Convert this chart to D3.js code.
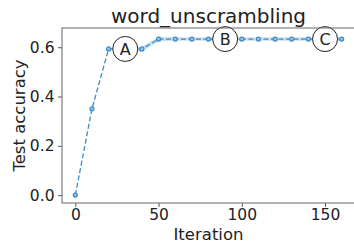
<!DOCTYPE html>
<html>
<head>
<meta charset="utf-8">
<script src="https://cdn.jsdelivr.net/npm/d3@7"></script>
<style>
  body { margin: 0; background: #fff; }
  text { font-family: "DejaVu Sans", sans-serif; fill: #222; }
</style>
</head>
<body>
<div id="chart"></div>
<script>
var width = 354,
    height = 244;

var iterations = [0, 10, 20, 30, 40, 50, 60, 70, 80, 90, 100, 110, 120, 130, 140, 150, 160];
var accuracy   = [0, 0.35, 0.593, 0.593, 0.593, 0.633, 0.633, 0.633, 0.633, 0.633, 0.633, 0.633, 0.633, 0.633, 0.633, 0.633, 0.633];
var bandLow    = [0, 0.35, 0.590, 0.585, 0.582, 0.622, 0.626, 0.626, 0.626, 0.626, 0.626, 0.626, 0.626, 0.626, 0.626, 0.626, 0.626];
var bandHigh   = [0, 0.35, 0.596, 0.600, 0.602, 0.644, 0.640, 0.640, 0.640, 0.640, 0.640, 0.640, 0.640, 0.640, 0.640, 0.640, 0.640];
var markers    = [{label: "A", x: 30}, {label: "B", x: 90}, {label: "C", x: 150}];
var xTicks = [0, 50, 100, 150];
var yTicks = [0.0, 0.2, 0.4, 0.6];

var margin = {left: 62, right: -1, top: 28, bottom: 41};

var svg = d3.select("#chart").append("svg")
    .attr("width", width)
    .attr("height", height);

var x = d3.scaleLinear().domain([-8, 168]).range([margin.left, width - margin.right]);
var y = d3.scaleLinear().domain([-0.032, 0.678]).range([height - margin.bottom, margin.top]);

var data = iterations.map(function(d, i){
  return {x: d, y: accuracy[i], lo: bandLow[i], hi: bandHigh[i]};
});

var color = "#3a8bc8";

// band
svg.append("path")
    .datum(data)
    .attr("fill", "#1f77b4")
    .attr("fill-opacity", 0.22)
    .attr("d", d3.area()
      .x(function(d){ return x(d.x) })
      .y0(function(d){ return y(d.lo) })
      .y1(function(d){ return y(d.hi) }));

// line
svg.append("path")
    .datum(data)
    .attr("fill", "none")
    .attr("stroke", color)
    .attr("stroke-width", 1.3)
    .attr("stroke-dasharray", "5,2.5")
    .attr("d", d3.line()
      .x(function(d){ return x(d.x) })
      .y(function(d){ return y(d.y) }));

svg.selectAll(".pt")
    .data(data)
  .enter().append("circle")
    .attr("class", "pt")
    .attr("cx", function(d){ return x(d.x) })
    .attr("cy", function(d){ return y(d.y) })
    .attr("r", 2)
    .attr("fill", "#9cc6e6")
    .attr("stroke", color)
    .attr("stroke-width", 1.2);

// labels
var lab = svg.selectAll(".lab")
    .data(markers)
  .enter().append("g")
    .attr("class", "lab")
    .attr("transform", function(d){
      var i = iterations.indexOf(d.x);
      return "translate(" + x(d.x) + "," + y(accuracy[i]) + ")";
    });

lab.append("circle")
    .attr("r", 12.5)
    .attr("fill", "#fff")
    .attr("stroke", "#222")
    .attr("stroke-width", 1);

lab.append("text")
    .attr("text-anchor", "middle")
    .attr("dy", "0.36em")
    .style("font-size", "16px")
    .text(function(d){ return d.label });

// axes
var xAxis = svg.append("g")
    .attr("transform", "translate(0," + (height - margin.bottom) + ")")
    .call(d3.axisBottom(x).tickValues(xTicks).tickSize(4).tickPadding(2).tickFormat(d3.format("d")));

var yAxis = svg.append("g")
    .attr("transform", "translate(" + margin.left + ",0)")
    .call(d3.axisLeft(y).tickValues(yTicks).tickSize(4).tickPadding(3.5).tickFormat(d3.format(".1f")));

[xAxis, yAxis].forEach(function(a){
  a.select(".domain").remove();
  a.selectAll("line").attr("stroke", "#555");
  a.selectAll("text").style("font-size", "15.5px").attr("fill", "#222");
});

// frame
svg.append("rect")
    .attr("x", margin.left)
    .attr("y", margin.top)
    .attr("width", width - margin.right - margin.left)
    .attr("height", height - margin.bottom - margin.top)
    .attr("fill", "none")
    .attr("stroke", "#666")
    .attr("stroke-width", 1);

svg.append("text")
    .attr("x", (margin.left + width - margin.right) / 2)
    .attr("y", 22.5)
    .attr("text-anchor", "middle")
    .style("font-size", "20px")
    .text("word_unscrambling");

svg.append("text")
    .attr("x", (margin.left + width - margin.right) / 2)
    .attr("y", 239.5)
    .attr("text-anchor", "middle")
    .style("font-size", "16.5px")
    .text("Iteration");

svg.append("text")
    .attr("transform", "translate(25," + ((margin.top + height - margin.bottom) / 2) + ") rotate(-90)")
    .attr("text-anchor", "middle")
    .style("font-size", "16.5px")
    .text("Test accuracy");
</script>
</body>
</html>
